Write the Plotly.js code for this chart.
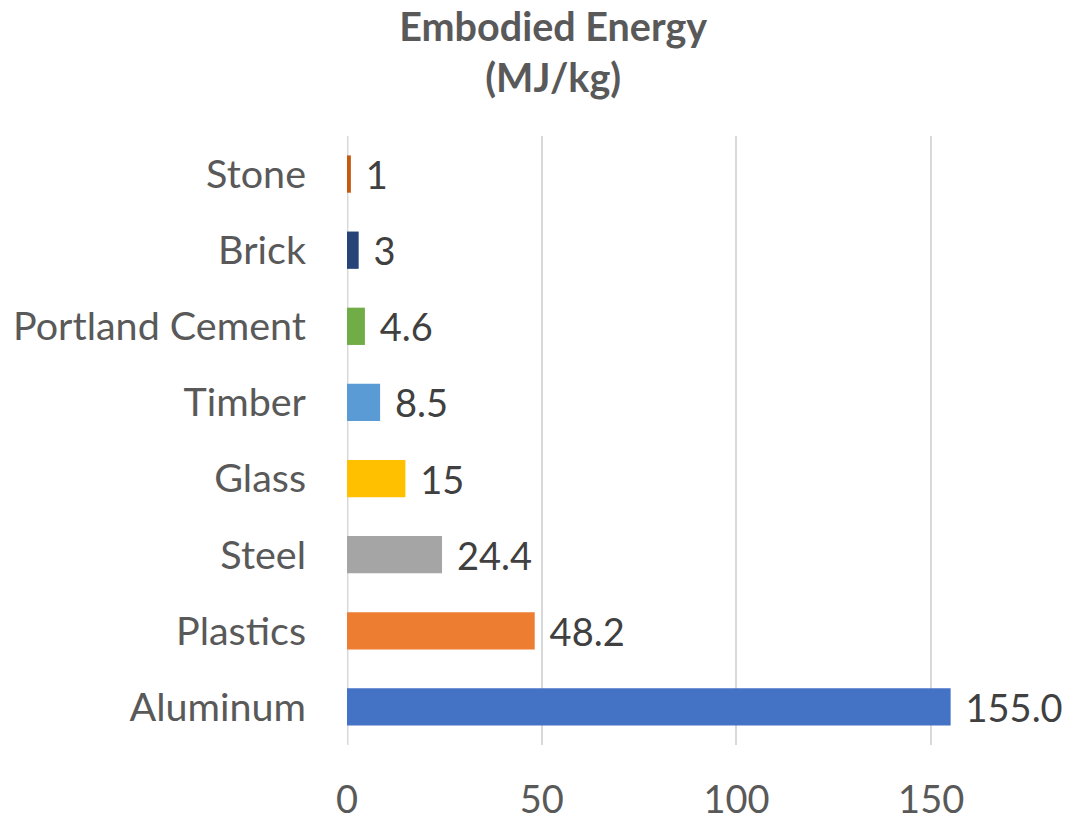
<!DOCTYPE html>
<html>
<head>
<meta charset="utf-8">
<script src="https://cdn.plot.ly/plotly-3.0.1.min.js"></script>
<style>html,body{margin:0;padding:0;background:#fff;}#chart{width:1069px;height:821px;}</style>
</head>
<body>
<div id="chart"></div>
<script>
const materials = ["Stone", "Brick", "Portland Cement", "Timber", "Glass", "Steel", "Plastics", "Aluminum"];
const energy = [1, 3, 4.6, 8.5, 15, 24.4, 48.2, 155.0];
const valueLabels = ["1", "3", "4.6", "8.5", "15", "24.4", "48.2", "155.0"];
const barColors = ["#C55A11", "#264478", "#70AD47", "#5B9BD5", "#FFC000", "#A5A5A5", "#ED7D31", "#4472C4"];
const xTicks = [0, 50, 100, 150];

const FONT = "Lato, 'Open Sans', sans-serif";

const trace = {
  type: "bar",
  orientation: "h",
  y: materials,
  x: energy,
  text: valueLabels.map(s => "\u2005\u200A" + s),
  textposition: "outside",
  constraintext: "none",
  cliponaxis: false,
  textfont: {family: FONT, size: 38, color: "#404040"},
  marker: {color: barColors, line: {width: 0}},
  hoverinfo: "skip"
};

const layout = {
  width: 1069,
  height: 821,
  margin: {l: 347, r: 21, t: 136, b: 76},
  paper_bgcolor: "#ffffff",
  plot_bgcolor: "#ffffff",
  showlegend: false,
  bargap: 0.51,
  title: {
    text: "<b>Embodied Energy</b><br><b>(MJ/kg)</b>",
    font: {family: FONT, size: 39.5, color: "#595959"},
    x: 0.5175, xanchor: "center",
    y: 0.95, yanchor: "top", yref: "container"
  },
  xaxis: {
    range: [0, 180],
    tickvals: xTicks,
    ticktext: xTicks.map(String),
    showgrid: true,
    gridcolor: "#D9D9D9",
    gridwidth: 2,
    zeroline: false,
    showline: false,
    ticks: "",
    ticklabelstandoff: 29,
    tickfont: {family: FONT, size: 38, color: "#595959"}
  },
  yaxis: {
    type: "category",
    autorange: "reversed",
    showgrid: false,
    zeroline: false,
    showline: false,
    ticks: "",
    ticklabelstandoff: 40,
    tickfont: {family: FONT, size: 39.5, color: "#595959"}
  },
  shapes: [{
    type: "line", xref: "x", yref: "paper", x0: 0, x1: 0, y0: 0, y1: 1,
    line: {color: "#D9D9D9", width: 3}, layer: "below"
  }]
};

Plotly.newPlot("chart", [trace], layout, {displayModeBar: false, staticPlot: true});
</script>
</body>
</html>
